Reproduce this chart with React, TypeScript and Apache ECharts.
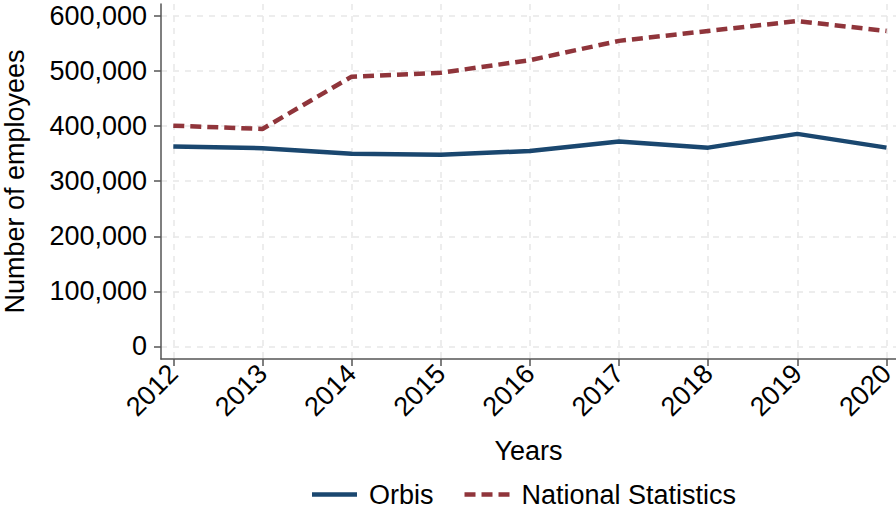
import React, { useEffect, useRef } from "react";
import * as echarts from "echarts";

const years = [2012, 2013, 2014, 2015, 2016, 2017, 2018, 2019, 2020];
const orbis = [363000, 360000, 350000, 348000, 355000, 372000, 361000, 386000, 361000];
const nationalStatistics = [401000, 395000, 490000, 497000, 520000, 555000, 573000, 591000, 573000];
const yTicks = [0, 100000, 200000, 300000, 400000, 500000, 600000];

const FONT = "Liberation Sans, Arial, sans-serif";
const NAVY = "#1a476f";
const MAROON = "#90353b";
const FS = 27;

const App: React.FC = () => {
  const chartRef = useRef<HTMLDivElement>(null);

  useEffect(() => {
    if (!chartRef.current) return;
    const chart = echarts.init(chartRef.current, undefined, { renderer: "svg" });

    const option: any = {
      animation: false,
      backgroundColor: "#ffffff",
      textStyle: { fontFamily: FONT },
      grid: { left: 161, right: 0, top: 4, bottom: 154, containLabel: false, outerBoundsMode: "none" },
      legend: {
        bottom: 0,
        left: 307,
        itemWidth: 45,
        itemHeight: 14,
        itemGap: 31,
        textStyle: { fontFamily: FONT, fontSize: FS, color: "#000", padding: [0, 0, 0, 7] },
        data: [
          { name: "Orbis", icon: "path://M0,5 L45,5 L45,9.5 L0,9.5 Z", itemStyle: { color: NAVY } },
          {
            name: "National Statistics",
            icon: "path://M0,5 L11,5 L11,9.5 L0,9.5 Z M17,5 L28,5 L28,9.5 L17,9.5 Z M34,5 L45,5 L45,9.5 L34,9.5 Z",
            itemStyle: { color: MAROON },
          },
        ],
      },
      xAxis: {
        type: "value",
        min: 2011.862,
        max: 2020.107,
        name: "Years",
        nameLocation: "middle",
        nameGap: 78,
        nameTextStyle: { fontFamily: FONT, fontSize: FS, color: "#000" },
        axisLine: { show: true, onZero: false, lineStyle: { color: "#555", width: 1.5 } },
        axisTick: { show: true, length: 7, customValues: years, lineStyle: { color: "#555", width: 1.5 } },
        axisLabel: {
          customValues: years,
          rotate: 45,
          margin: 10,
          fontFamily: FONT,
          fontSize: FS,
          color: "#000",
          formatter: (v: number) => String(Math.round(v)),
        },
        splitLine: { show: true, lineStyle: { color: "#e8e8e8", width: 1.5, type: [6, 6] } },
      },
      yAxis: {
        type: "value",
        min: -23000,
        max: 622000,
        name: "Number of employees",
        nameLocation: "middle",
        nameGap: 133,
        nameTextStyle: { fontFamily: FONT, fontSize: FS, color: "#000" },
        axisLine: { show: true, onZero: false, lineStyle: { color: "#555", width: 1.5 } },
        axisTick: { show: true, length: 7, customValues: yTicks, lineStyle: { color: "#555", width: 1.5 } },
        axisLabel: {
          customValues: yTicks,
          margin: 14,
          fontFamily: FONT,
          fontSize: FS,
          color: "#000",
          formatter: (v: number) => Math.round(v).toLocaleString("en-US"),
        },
        splitLine: { show: true, lineStyle: { color: "#e8e8e8", width: 1.5, type: [6, 6] } },
      },
      series: [
        {
          name: "Orbis",
          type: "line",
          data: years.map((y, i) => [y, orbis[i]]),
          showSymbol: false,
          lineStyle: { color: NAVY, width: 4.5 },
          itemStyle: { color: NAVY },
        },
        {
          name: "National Statistics",
          type: "line",
          data: years.map((y, i) => [y, nationalStatistics[i]]),
          showSymbol: false,
          lineStyle: { color: MAROON, width: 4.5, type: [11, 6] },
          itemStyle: { color: MAROON },
        },
      ],
    };

    chart.setOption(option);
    return () => {
      chart.dispose();
    };
  }, []);

  return (
    <div
      ref={chartRef}
      style={{ position: "absolute", left: 0, top: 0, width: 896, height: 513 }}
    />
  );
};

export default App;
